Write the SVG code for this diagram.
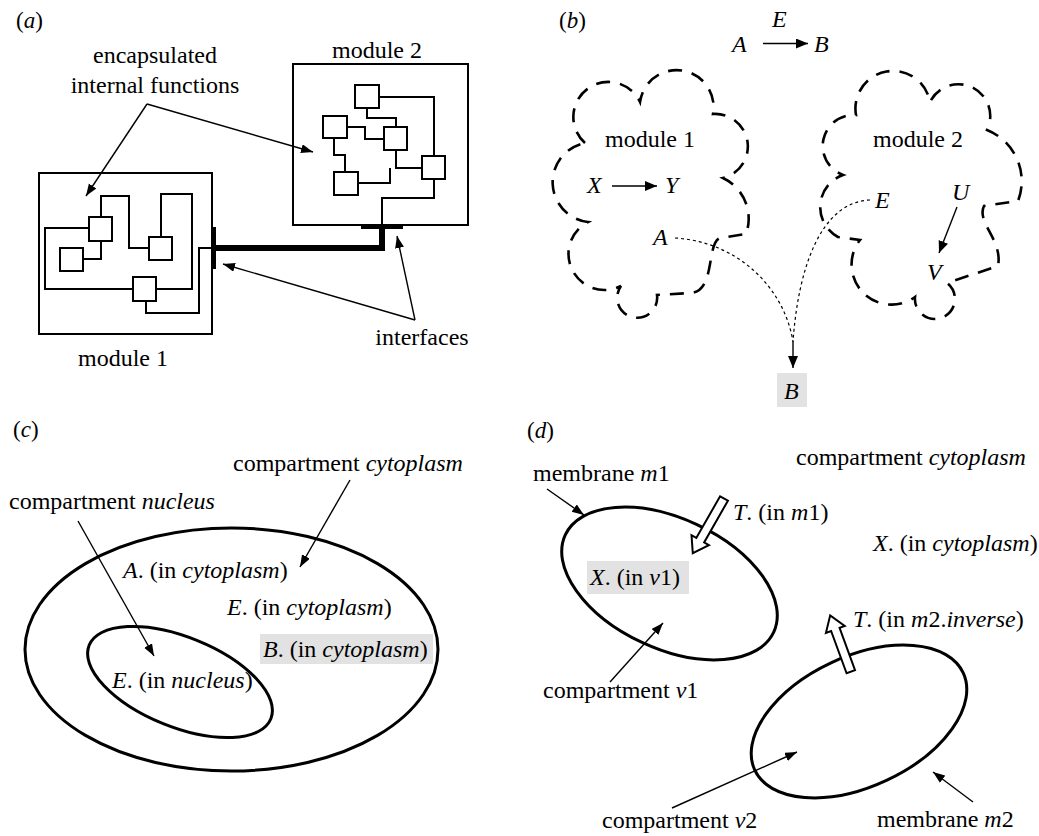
<svg xmlns="http://www.w3.org/2000/svg" width="1039" height="836" viewBox="0 0 1039 836" font-family="Liberation Serif, Times New Roman, serif">
<style>
.t{font-family:Liberation Serif, Times New Roman, Times, serif;font-size:24px;fill:#000}
.lab{font-family:Liberation Serif, Times New Roman, Times, serif;font-size:23px;fill:#000}
.i{font-style:italic}
.box{fill:#fff;stroke:#000;stroke-width:2}
.wire{fill:none;stroke:#000;stroke-width:2}
.thin{fill:none;stroke:#000;stroke-width:1.4}
.cloud{fill:none;stroke:#000;stroke-width:2.6;stroke-dasharray:14 10}
.dot{fill:none;stroke:#000;stroke-width:1.2;stroke-dasharray:3 3}
.ell{fill:none;stroke:#000;stroke-width:3}
.hollow{fill:#fff;stroke:#000;stroke-width:2;stroke-linejoin:miter}
.gray{fill:#e2e2e2}
</style>
<defs>
<marker id="ah" markerUnits="userSpaceOnUse" markerWidth="14" markerHeight="10" refX="12" refY="4.5" orient="auto">
<path d="M0,0 L12,4.5 L0,9 z" fill="#000"/>
</marker>
<marker id="ahb" markerUnits="userSpaceOnUse" markerWidth="14" markerHeight="12" refX="12" refY="5" orient="auto">
<path d="M0,0 L12,5 L0,10 z" fill="#000"/>
</marker>
</defs>
<rect width="1039" height="836" fill="#fff"/>

<!-- Panel (a) -->
<text class="lab" x="16" y="28">(<tspan class="i">a</tspan>)</text>
<g id="module2">
<rect class="box" x="293" y="64" width="175" height="161"/>
<text class="t" x="377" y="58" text-anchor="middle">module 2</text>
<g class="wire">
<polyline points="379,97 434,97 434,156"/>
<polyline points="367,108 367,118 396,118 396,127"/>
<polyline points="347,127 365,127 365,139 384,139"/>
<polyline points="334,138 334,155 345,155 345,172"/>
<polyline points="396,150 396,168 422,168"/>
<polyline points="358,183 390,183 390,168"/>
<polyline points="434,179 434,198 382,198 382,225"/>
</g>
<rect class="box" x="355" y="85" width="24" height="23"/>
<rect class="box" x="323" y="116" width="24" height="22"/>
<rect class="box" x="384" y="127" width="23" height="23"/>
<rect class="box" x="334" y="172" width="24" height="23"/>
<rect class="box" x="422" y="156" width="23" height="23"/>
</g>
<g id="module1">
<rect class="box" x="39" y="173" width="173" height="161"/>
<text class="t" x="123" y="366" text-anchor="middle">module 1</text>
<g class="wire">
<polyline points="101,217 101,196 129,196 129,248 149,248"/>
<polyline points="161,237 161,194 192,194 192,289 156,289"/>
<polyline points="89,228 45,228 45,289 133,289"/>
<polyline points="83,259 101,259 101,241"/>
<polyline points="146,301 146,313 199,313 199,248 212,248"/>
</g>
<rect class="box" x="89" y="217" width="23" height="24"/>
<rect class="box" x="60" y="248" width="23" height="23"/>
<rect class="box" x="149" y="237" width="23" height="23"/>
<rect class="box" x="133" y="277" width="23" height="24"/>
</g>
<g id="interfaces-link">
<rect x="211" y="227" width="5" height="42" fill="#000"/>
<rect x="361" y="224" width="42" height="5" fill="#000"/>
<polyline points="214,248 382,248 382,226" fill="none" stroke="#000" stroke-width="6"/>
</g>
<g id="labels-a">
<text class="t" x="155" y="63" text-anchor="middle">encapsulated</text>
<text class="t" x="155" y="93" text-anchor="middle">internal functions</text>
<text class="t" x="422" y="345" text-anchor="middle">interfaces</text>
</g>
<g id="connectors-a">
<line class="thin" x1="147" y1="104" x2="86" y2="196" marker-end="url(#ah)"/>
<line class="thin" x1="147" y1="104" x2="313" y2="152" marker-end="url(#ah)"/>
<line class="thin" x1="415" y1="320" x2="223" y2="264" marker-end="url(#ah)"/>
<line class="thin" x1="415" y1="320" x2="397" y2="236" marker-end="url(#ah)"/>
</g>

<!-- Panel (b) -->
<text class="lab" x="559" y="28">(<tspan class="i">b</tspan>)</text>
<g id="cloud1">
<path class="cloud" d="M585,143 A35,35 0 1 1 640,102 A37,37 0 1 1 713,114 A32.5,32.5 0 0 1 723,178 A45,45 0 0 1 746,234 L720,238 C706,243 716,292 690,293 L657,295 A20,20 0 1 1 621,286 A36,36 0 0 1 588,222 A40,40 0 0 1 585,143 Z"/>
<text class="t" x="605" y="147">module 1</text>
<text class="t i" x="587" y="193">X</text>
<text class="t i" x="665" y="193">Y</text>
</g>
<g id="cloud2">
<path class="cloud" d="M856,115 A37,37 0 0 1 930,102 A31,31 0 0 1 987,130 A55,55 0 0 1 1018,201 L984,206 C976,222 1003,240 998,266 L947,283 A20,20 0 1 1 915,297 A40,40 0 0 1 860,240 L838,237 A34,34 0 0 1 843,175 A31,31 0 0 1 856,115 Z"/>
<text class="t" x="873" y="147">module 2</text>
<text class="t i" x="952" y="200">U</text>
<text class="t i" x="927" y="280">V</text>
</g>
<g id="reaction-b">
<text class="t i" x="732" y="52">A</text>
<text class="t i" x="772" y="27">E</text>
<text class="t i" x="814" y="52">B</text>
<text class="t i" x="653" y="245">A</text>
<text class="t i" x="875" y="208">E</text>
</g>
<g id="nodeB">
<rect class="gray" x="777" y="373" width="30" height="34"/>
<text class="t i" x="784" y="399">B</text>
</g>
<g id="connectors-b">
<line class="thin" x1="763" y1="43.5" x2="808" y2="43.5" marker-end="url(#ahb)"/>
<line class="thin" x1="612" y1="186" x2="657" y2="186" marker-end="url(#ahb)"/>
<line class="thin" x1="957" y1="207" x2="939" y2="253" marker-end="url(#ahb)"/>
<path class="dot" d="M675,238 C740,242 785,290 793,342"/>
<path class="dot" d="M870,200 C820,202 798,270 793,342"/>
<line class="thin" x1="793" y1="342" x2="793" y2="368" marker-end="url(#ahb)"/>
</g>

<!-- Panel (c) -->
<text class="lab" x="13" y="437">(<tspan class="i">c</tspan>)</text>
<g id="cytoplasm-c">
<ellipse class="ell" cx="231.5" cy="649.5" rx="206.5" ry="121.5"/>
<text class="t" x="233" y="471">compartment <tspan class="i">cytoplasm</tspan></text>
<text class="t" x="123" y="578"><tspan class="i">A</tspan>. (in <tspan class="i">cytoplasm</tspan>)</text>
<text class="t" x="227" y="615"><tspan class="i">E</tspan>. (in <tspan class="i">cytoplasm</tspan>)</text>
<rect class="gray" x="260" y="634" width="173" height="30"/>
<text class="t" x="263" y="657"><tspan class="i">B</tspan>. (in <tspan class="i">cytoplasm</tspan>)</text>
</g>
<g id="nucleus-c">
<ellipse class="ell" cx="180" cy="682" rx="98" ry="45" transform="rotate(22 180 682)"/>
<text class="t" x="9" y="509">compartment <tspan class="i">nucleus</tspan></text>
<text class="t" x="112" y="688"><tspan class="i">E</tspan>. (in <tspan class="i">nucleus</tspan>)</text>
</g>
<g id="connectors-c">
<line class="thin" x1="78" y1="521" x2="154" y2="656" marker-end="url(#ah)"/>
<line class="thin" x1="350" y1="480" x2="300" y2="567" marker-end="url(#ah)"/>
</g>

<!-- Panel (d) -->
<text class="lab" x="527" y="438">(<tspan class="i">d</tspan>)</text>
<g id="cytoplasm-d">
<text class="t" x="796" y="465">compartment <tspan class="i">cytoplasm</tspan></text>
<text class="t" x="873" y="551"><tspan class="i">X</tspan>. (in <tspan class="i">cytoplasm</tspan>)</text>
</g>
<g id="v1">
<ellipse class="ell" cx="669.5" cy="583.5" rx="115" ry="65" transform="rotate(25 669.5 583.5)" stroke-width="2.6"/>
<rect class="gray" x="587" y="561" width="102" height="33"/>
<text class="t" x="590" y="585"><tspan class="i">X</tspan>. (in <tspan class="i">v</tspan>1)</text>
<text class="t" x="533" y="481">membrane <tspan class="i">m</tspan>1</text>
<text class="t" x="543" y="698">compartment <tspan class="i">v</tspan>1</text>
</g>
<g id="v2">
<ellipse class="ell" cx="859" cy="721.5" rx="115" ry="65" transform="rotate(-25 859 721.5)" stroke-width="2.6"/>
<text class="t" x="602" y="828">compartment <tspan class="i">v</tspan>2</text>
<text class="t" x="877" y="827">membrane <tspan class="i">m</tspan>2</text>
</g>
<g id="transporters">
<polygon class="hollow" points="0,-4.5 48,-4.5 48,-10 63,0 48,10 48,4.5 0,4.5" transform="translate(724 498.5) rotate(119.7)"/>
<text class="t" x="733" y="520"><tspan class="i">T</tspan>. (in <tspan class="i">m</tspan>1)</text>
<polygon class="hollow" points="0,-4.5 45,-4.5 45,-10 60,0 45,10 45,4.5 0,4.5" transform="translate(850.8 671.7) rotate(-110.1)"/>
<text class="t" x="853" y="627"><tspan class="i">T</tspan>. (in <tspan class="i">m</tspan>2.<tspan class="i">inverse</tspan>)</text>
</g>
<g id="connectors-d">
<line class="thin" x1="547" y1="489" x2="584" y2="515" marker-end="url(#ah)"/>
<line class="thin" x1="610" y1="682" x2="663" y2="623" marker-end="url(#ah)"/>
<line class="thin" x1="672" y1="808" x2="797" y2="752" marker-end="url(#ah)"/>
<line class="thin" x1="973" y1="802" x2="933" y2="772" marker-end="url(#ah)"/>
</g>
</svg>
